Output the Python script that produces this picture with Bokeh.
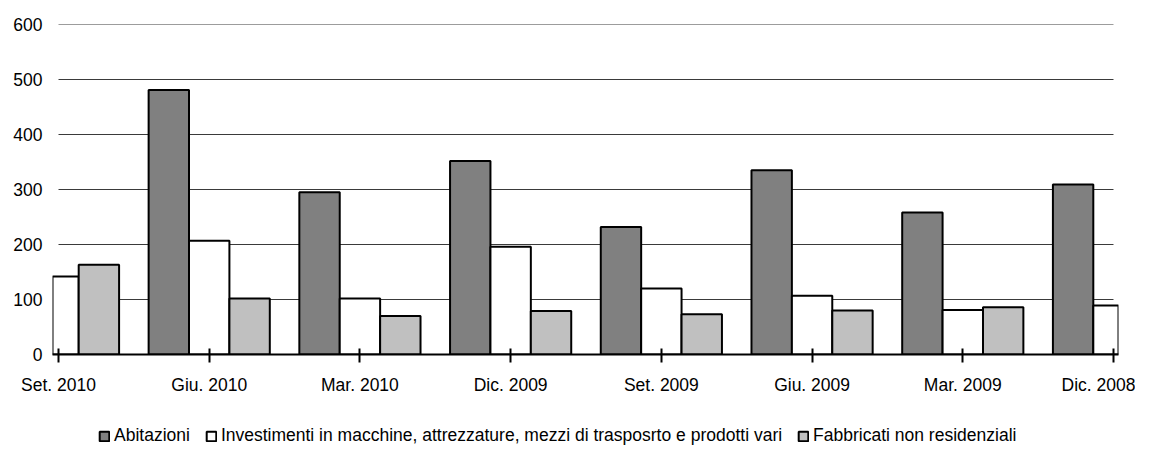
import math
from bokeh.plotting import figure
from bokeh.layouts import column
from bokeh.models import Range1d, FixedTicker, Legend, LegendItem, ColumnDataSource
from bokeh.embed import file_html
from bokeh.resources import INLINE

# ---- data ----
periods = ["Set. 2010", "Giu. 2010", "Mar. 2010", "Dic. 2009",
           "Set. 2009", "Giu. 2009", "Mar. 2009", "Dic. 2008"]
abitazioni = [math.nan, 481, 295, 352, 232, 335, 258, 309]
investimenti = [142, 207, 102, 196, 120, 107, 81, 89]
fabbricati = [163, 102, 70, 79, 73, 80, 86, math.nan]
series_names = ["Abitazioni",
                "Investimenti in macchine, attrezzature, mezzi di trasposrto e prodotti vari",
                "Fabbricati non residenziali"]
series_colors = ["#808080", "#FFFFFF", "#C0C0C0"]
y_ticks = [0, 100, 200, 300, 400, 500, 600]

FONT = "Liberation Sans"
FS = "17.5px"

n = len(periods)
xs = list(range(n))
bar_w = 0.268
offsets = [-bar_w, 0.0, bar_w]

p = figure(width=1135, height=400, output_backend="svg", toolbar_location=None,
           x_range=Range1d(-6 / 150.7, (n - 1) + 5 / 150.7),
           y_range=Range1d(y_ticks[0], y_ticks[-1]),
           min_border_left=52, min_border_right=17, min_border_top=24, min_border_bottom=46)
p.outline_line_color = None
p.xgrid.visible = False
p.ygrid.visible = False
p.background_fill_color = "white"
p.border_fill_color = "white"

# horizontal gridlines between first and last tick
grid_src = ColumnDataSource(dict(x0=[xs[0]] * (len(y_ticks) - 1), x1=[xs[-1]] * (len(y_ticks) - 1),
                                 y=y_ticks[1:]))
p.segment(x0="x0", x1="x1", y0="y", y1="y", source=grid_src, line_color="#3a3a3a", line_width=1)

for vals, off, col in zip([abitazioni, investimenti, fabbricati], offsets, series_colors):
    src = ColumnDataSource(dict(x=[x + off for x in xs], top=vals))
    p.vbar(x="x", top="top", width=bar_w, bottom=0, source=src,
           fill_color=col, line_color="black", line_width=2)

# x axis
p.xaxis.ticker = FixedTicker(ticks=xs)
p.xaxis.major_label_overrides = {i: lab for i, lab in enumerate(periods)}
p.xaxis.axis_line_width = 2
p.xaxis.axis_line_color = "black"
p.xaxis.major_tick_line_width = 2
p.xaxis.major_tick_line_color = "black"
p.xaxis.major_tick_in = 6
p.xaxis.major_tick_out = 8
p.xaxis.minor_tick_line_color = None
p.xaxis.major_label_standoff = 12
p.xaxis.major_label_text_font = FONT
p.xaxis.major_label_text_font_size = FS
p.xaxis.major_label_text_color = "black"

# y axis
p.yaxis.ticker = FixedTicker(ticks=y_ticks)
p.yaxis.axis_line_color = None
p.yaxis.major_tick_line_color = None
p.yaxis.minor_tick_line_color = None
p.yaxis.major_tick_in = 0
p.yaxis.major_tick_out = 0
p.yaxis.major_label_standoff = 10
p.yaxis.major_label_text_font = FONT
p.yaxis.major_label_text_font_size = FS
p.yaxis.major_label_text_color = "black"

# ---- legend strip ----
q = figure(width=1135, height=46, output_backend="svg", toolbar_location=None,
           x_range=Range1d(0, 1), y_range=Range1d(0, 1),
           x_axis_location=None, y_axis_location=None,
           min_border_left=0, min_border_right=0, min_border_top=0, min_border_bottom=0)
q.outline_line_color = None
q.xgrid.visible = False
q.ygrid.visible = False
leg_renderers = []
for col in series_colors:
    # proxy glyph with no drawable geometry; only its legend swatch is shown
    r = q.vbar(x=[math.nan], top=[math.nan], bottom=[math.nan], width=0.1,
               fill_color=col, line_color="black", line_width=2)
    leg_renderers.append(r)

legend = Legend(items=[LegendItem(label=nm, renderers=[r]) for nm, r in zip(series_names, leg_renderers)],
                orientation="horizontal", location=(46, 0))
legend.background_fill_alpha = 0
legend.border_line_color = None
legend.label_text_font = FONT
legend.label_text_font_size = FS
legend.label_text_color = "black"
legend.glyph_width = 12
legend.glyph_height = 12
legend.label_standoff = 4
legend.spacing = 15
legend.padding = 0
legend.margin = 0
legend.label_height = 20
q.add_layout(legend)

layout = column(p, q, spacing=0)
open("out.html", "w").write(file_html(layout, INLINE))
